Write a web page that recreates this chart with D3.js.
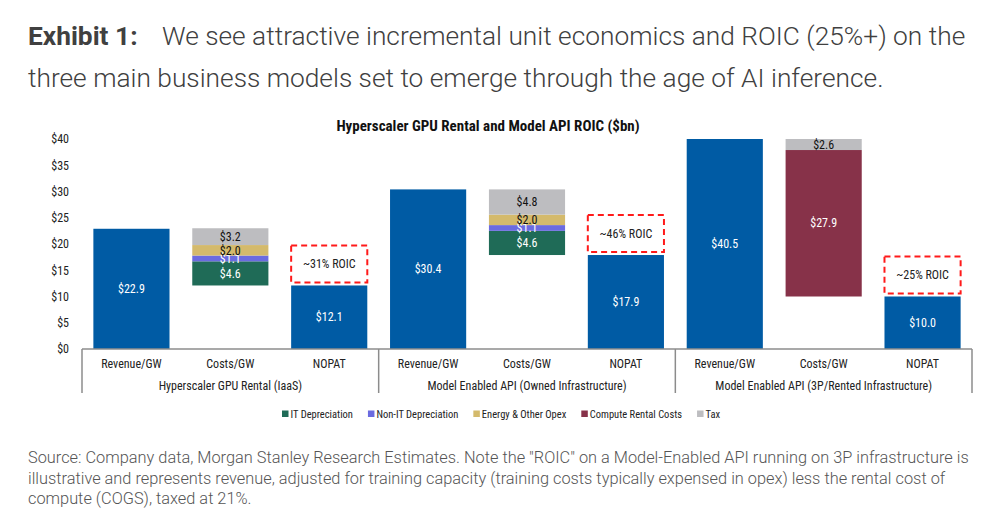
<!DOCTYPE html>
<html>
<head>
<meta charset="utf-8">
<script src="https://cdn.jsdelivr.net/npm/d3@7"></script>
<style>
  body { margin: 0; background: #fff; }
  svg text { font-family: "Roboto Condensed", "Liberation Sans Narrow", "DejaVu Sans Condensed", Roboto, sans-serif; }
  .head { font-family: Roboto, "Open Sans", sans-serif !important; }
</style>
</head>
<body>
<div id="chart"></div>
<script>
// data ($bn per GW)
const groups = ["Hyperscaler GPU Rental (IaaS)", "Model Enabled API (Owned Infrastructure)", "Model Enabled API (3P/Rented Infrastructure)"];
const steps = ["Revenue/GW", "Costs/GW", "NOPAT"];
const revenue = [22.9, 30.4, 40.5];
const nopat = [12.1, 17.9, 10.0];
const costNames = ["IT Depreciation", "Non-IT Depreciation", "Energy & Other Opex", "Compute Rental Costs", "Tax"];
const itDep = [4.6, 4.6, 0];
const nonItDep = [1.1, 1.1, 0];
const energyOpex = [2.0, 2.0, 0];
const computeRental = [0, 0, 27.9];
const tax = [3.2, 4.8, 2.6];
const roicLabels = ["~31% ROIC", "~46% ROIC", "~25% ROIC"];
const yTicks = [0, 5, 10, 15, 20, 25, 30, 35, 40];

const costColors = ["#1f6b57", "#6b6be0", "#d4ba6c", "#873249", "#bdbdc0"];
const costText = ["#fff", "#fff", "#111", "#fff", "#111"];
const blue = "#005ba4";

function create_chart(div, width, height) {
    const svg = d3.select(div).append("svg")
        .attr("width", width)
        .attr("height", height);

    // Header text
    const head = svg.append("text")
        .attr("class", "head")
        .attr("x", 28)
        .attr("y", 45)
        .style("font-size", "26.3px")
        .attr("fill", "#404040");
    head.append("tspan").attr("font-weight", 700).text("Exhibit 1:");
    head.append("tspan").attr("x", 162).attr("font-weight", 300)
        .text("We see attractive incremental unit economics and ROIC (25%+) on the");
    svg.append("text")
        .attr("class", "head")
        .attr("x", 28)
        .attr("y", 87)
        .style("font-size", "26.3px")
        .attr("font-weight", 300)
        .attr("fill", "#404040")
        .text("three main business models set to emerge through the age of AI inference.");

    // Chart title
    svg.append("text")
        .attr("x", 488)
        .attr("y", 131)
        .attr("text-anchor", "middle")
        .attr("font-weight", 700)
        .style("font-size", "15px")
        .attr("fill", "#111")
        .text("Hyperscaler GPU Rental and Model API ROIC ($bn)");

    // Scales
    const keys = [];
    groups.forEach((g, gi) => steps.forEach(s => keys.push(gi + "|" + s)));
    const x = d3.scaleBand()
        .domain(keys)
        .range([82, 972])
        .paddingInner(0.23)
        .paddingOuter(0.115);
    const y = d3.scaleLinear()
        .domain([0, 40])
        .range([349, 139]);

    // y tick labels (no axis line)
    const yAxis = d3.axisLeft(y)
        .tickValues(yTicks)
        .tickSize(0)
        .tickPadding(0)
        .tickFormat(d => "$" + d);
    const yg = svg.append("g")
        .attr("transform", "translate(69,0)")
        .call(yAxis);
    yg.select(".domain").remove();
    yg.selectAll("text")
        .style("font-size", "12px")
        .attr("fill", "#222");

    // Clip at the top of the value axis
    svg.append("clipPath").attr("id", "plotclip")
        .append("rect")
        .attr("x", 82).attr("y", y(40))
        .attr("width", 890).attr("height", y(0) - y(40));
    const plot = svg.append("g").attr("clip-path", "url(#plotclip)");

    const costSeries = [itDep, nonItDep, energyOpex, computeRental, tax];

    groups.forEach((g, gi) => {
        // Revenue and NOPAT bars
        [["Revenue/GW", revenue[gi]], ["NOPAT", nopat[gi]]].forEach(([s, v]) => {
            const key = gi + "|" + s;
            plot.append("rect")
                .attr("x", x(key))
                .attr("y", y(v))
                .attr("width", x.bandwidth())
                .attr("height", y(0) - y(v))
                .attr("fill", blue);
            svg.append("text")
                .attr("x", x(key) + x.bandwidth() / 2)
                .attr("y", y(Math.min(v, 40) / 2))
                .attr("dy", "0.35em")
                .attr("text-anchor", "middle")
                .style("font-size", "12px")
                .attr("fill", "#fff")
                .text("$" + v.toFixed(1));
        });

        // Costs: floating stack from NOPAT up to revenue
        const ckey = gi + "|Costs/GW";
        let base = nopat[gi];
        costSeries.forEach((arr, si) => {
            const v = arr[gi];
            if (!v) return;
            plot.append("rect")
                .attr("x", x(ckey))
                .attr("y", y(base + v))
                .attr("width", x.bandwidth())
                .attr("height", y(base) - y(base + v))
                .attr("fill", costColors[si]);
            const mid = (base + Math.min(base + v, 40)) / 2;
            svg.append("text")
                .attr("x", x(ckey) + x.bandwidth() / 2)
                .attr("y", y(mid))
                .attr("dy", "0.35em")
                .attr("text-anchor", "middle")
                .style("font-size", "12px")
                .attr("fill", costText[si])
                .text("$" + v.toFixed(1));
            base += v;
        });

        // ROIC callout above the NOPAT bar
        const nkey = gi + "|NOPAT";
        const boxBottom = y(nopat[gi]) - 3;
        svg.append("rect")
            .attr("x", x(nkey))
            .attr("y", boxBottom - 37)
            .attr("width", x.bandwidth())
            .attr("height", 37)
            .attr("fill", "#fff")
            .attr("stroke", "#ff1a1a")
            .attr("stroke-width", 2)
            .attr("stroke-dasharray", "6,4");
        svg.append("text")
            .attr("x", x(nkey) + x.bandwidth() / 2)
            .attr("y", boxBottom - 18.5)
            .attr("dy", "0.35em")
            .attr("text-anchor", "middle")
            .style("font-size", "12px")
            .attr("fill", "#222")
            .text(roicLabels[gi]);
    });

    // Category axis box
    const axisColor = "#8c8c8c";
    svg.append("line")
        .attr("x1", 82).attr("x2", 972)
        .attr("y1", y(0)).attr("y2", y(0))
        .attr("stroke", axisColor).attr("stroke-width", 1.5);
    [0, 3, 6, 9].forEach(i => {
        const xx = i < 9 ? x(keys[i]) - x.step() * x.paddingOuter() : 972;
        svg.append("line")
            .attr("x1", xx).attr("x2", xx)
            .attr("y1", y(0)).attr("y2", 393)
            .attr("stroke", axisColor).attr("stroke-width", 1.5);
    });
    keys.forEach(k => {
        svg.append("text")
            .attr("x", x(k) + x.bandwidth() / 2)
            .attr("y", 364)
            .attr("dy", "0.35em")
            .attr("text-anchor", "middle")
            .style("font-size", "12px")
            .attr("fill", "#222")
            .text(k.split("|")[1]);
    });
    groups.forEach((g, gi) => {
        const x0 = x(keys[gi * 3]), x1 = x(keys[gi * 3 + 2]) + x.bandwidth();
        svg.append("text")
            .attr("x", (x0 + x1) / 2)
            .attr("y", 386)
            .attr("dy", "0.35em")
            .attr("text-anchor", "middle")
            .style("font-size", "12px")
            .attr("fill", "#222")
            .text(g);
    });

    // Legend
    const legend = svg.append("g").attr("transform", "translate(282,414)");
    let lx = 0;
    costNames.forEach((n, i) => {
        legend.append("rect")
            .attr("x", lx).attr("y", -3.5)
            .attr("width", 6.5).attr("height", 6.5)
            .attr("fill", costColors[i]);
        const t = legend.append("text")
            .attr("x", lx + 8.5)
            .attr("dy", "0.35em")
            .style("font-size", "10.5px")
            .attr("fill", "#222")
            .text(n);
        lx += 8.5 + t.node().getComputedTextLength() + 15;
    });

    // Source note
    const notes = [
        "Source: Company data, Morgan Stanley Research Estimates. Note the \"ROIC\" on a Model-Enabled API running on 3P infrastructure is",
        "illustrative and represents revenue, adjusted for training capacity (training costs typically expensed in opex) less the rental cost of",
        "compute (COGS), taxed at 21%."
    ];
    notes.forEach((n, i) => {
        svg.append("text")
            .attr("class", "head")
            .attr("x", 28)
            .attr("y", 463 + i * 20.7)
            .style("font-size", "16.35px")
            .attr("font-weight", 300)
            .attr("fill", "#555")
            .text(n);
    });
}

create_chart("#chart", 981, 515);
</script>
</body>
</html>
